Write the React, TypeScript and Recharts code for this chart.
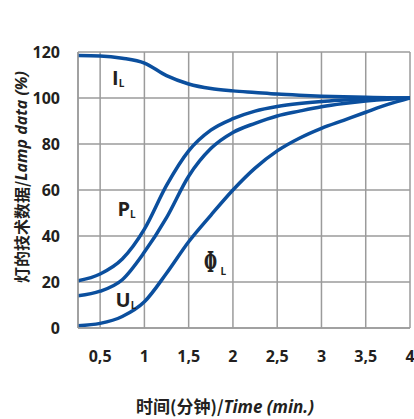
import React from 'react';
import { LineChart, Line, XAxis, YAxis, CartesianGrid, ReferenceDot } from 'recharts';

const timeMin = [0.25, 0.5, 0.75, 1.0, 1.25, 1.5, 1.75, 2.0, 2.25, 2.5, 2.75, 3.0, 3.25, 3.5, 3.75, 4.0];
const currentIL = [118.5, 118.3, 117.3, 115.2, 109.7, 106.1, 104.1, 103.1, 102.4, 101.7, 101.2, 100.8, 100.5, 100.3, 100.1, 100];
const powerPL = [20.5, 23.5, 30, 43, 62, 77, 86, 91, 94.3, 96.3, 97.6, 98.5, 99.1, 99.6, 99.9, 100];
const voltageUL = [14, 16, 21, 33, 48, 66, 78, 85, 89, 92.2, 94.3, 96.2, 97.6, 98.7, 99.5, 100];
const fluxPhiL = [1, 2, 5, 11.4, 23.8, 37.5, 49, 60, 69.5, 77, 82.5, 86.8, 90.3, 93.8, 97.2, 100];

const xTicks = [0.5, 1, 1.5, 2, 2.5, 3, 3.5, 4];
const yTicks = [0, 20, 40, 60, 80, 100, 120];

const annotations = [
  { main: 'I', x: 0.68, y: 108.7, serif: false },
  { main: 'P', x: 0.74, y: 51.7, serif: false },
  { main: 'U', x: 0.72, y: 12.2, serif: false },
  { main: 'Φ', x: 1.78, y: 28.7, serif: true },
];

const data = timeMin.map((t, i) => ({
  x: t,
  IL: currentIL[i],
  PL: powerPL[i],
  UL: voltageUL[i],
  PhiL: fluxPhiL[i],
}));

const BLUE = '#0b4f9e';
const GRID = '#9b9b9b';
const TEXT = '#231f20';
const FONT = '"Open Sans", "Noto Sans", sans-serif';

const renderAnno = (a: any) => (props: any) => {
  const vb = props.viewBox || {};
  const cx = (vb.x || 0) + (vb.width || 0) / 2;
  const cy = (vb.y || 0) + (vb.height || 0) / 2;
  if (a.serif) {
    return (
      <g>
        <text
          x={0}
          y={0}
          transform={`translate(${cx - 3},${cy + 10}) scale(0.75,1.4)`}
          textAnchor="middle"
          fontFamily='"DejaVu Serif", serif'
          fontWeight="bold"
          fontSize={20}
          fill={TEXT}
        >
          {a.main}
        </text>
        <text x={cx + 7} y={cy + 13} fontFamily={FONT} fontWeight="bold" fontSize={10} fill={TEXT}>L</text>
      </g>
    );
  }
  return (
    <text x={cx - 4} y={cy + 7} textAnchor="start" fontFamily={FONT} fontWeight="bold" fontSize={20} fill={TEXT}>
      <tspan>{a.main}</tspan>
      <tspan fontSize={10} dy={2}>L</tspan>
    </text>
  );
};

const renderYLabel = (props: any) => {
  const vb = props.viewBox || {};
  const cx = 21;
  const cy = (vb.y || 0) + (vb.height || 0) / 2 - 13;
  return (
    <text
      x={cx}
      y={cy}
      transform={`rotate(-90, ${cx}, ${cy})`}
      textAnchor="middle"
      dominantBaseline="central"
      fontFamily={FONT}
      fontWeight="bold"
      fontSize={16}
      fill={TEXT}
    >
      <tspan fontFamily='"Noto Sans CJK SC", sans-serif'>灯的技术数据/</tspan>
      <tspan fontStyle="italic">Lamp data (%)</tspan>
    </text>
  );
};

const renderXLabel = () => {
  const cx = 225;
  const cy = 413;
  return (
    <text x={cx} y={cy} textAnchor="middle" fontFamily={FONT} fontWeight="bold" fontSize={17} fill={TEXT}>
      <tspan fontFamily='"Noto Sans CJK SC", sans-serif'>时间(分钟)/</tspan>
      <tspan fontStyle="italic">Time (min.)</tspan>
    </text>
  );
};

export default function App() {
  return (
    <div style={{ position: 'absolute', left: 0, top: 0, width: 414, height: 419, background: '#fff' }}>
      <LineChart width={414} height={419} data={data} margin={{ top: 52, right: 4, left: 0, bottom: 0 }}>
        <CartesianGrid stroke={GRID} strokeWidth={1.5} />
        <XAxis
          dataKey="x"
          type="number"
          domain={[0.25, 4]}
          ticks={xTicks}
          interval={0}
          allowDataOverflow
          height={91}
          tickLine={false}
          tickSize={0}
          tickMargin={23}
          axisLine={{ stroke: GRID, strokeWidth: 1.5 }}
          tickFormatter={(v: number) => String(v).replace('.', ',')}
          tick={{ fontFamily: FONT, fontWeight: 'bold', fontSize: 16, fill: TEXT }}
          label={{ content: renderXLabel }}
        />
        <YAxis
          type="number"
          domain={[0, 120]}
          ticks={yTicks}
          interval={0}
          width={78}
          tickLine={false}
          tickSize={0}
          tickMargin={18}
          axisLine={{ stroke: GRID, strokeWidth: 1.5 }}
          tick={{ fontFamily: FONT, fontWeight: 'bold', fontSize: 16, fill: TEXT }}
          label={{ content: renderYLabel }}
        />
        <Line type="monotone" dataKey="IL" stroke={BLUE} strokeWidth={3.5} dot={false} isAnimationActive={false} />
        <Line type="monotone" dataKey="PL" stroke={BLUE} strokeWidth={3.5} dot={false} isAnimationActive={false} />
        <Line type="monotone" dataKey="UL" stroke={BLUE} strokeWidth={3.5} dot={false} isAnimationActive={false} />
        <Line type="monotone" dataKey="PhiL" stroke={BLUE} strokeWidth={3.5} dot={false} isAnimationActive={false} />
        {annotations.map((a) => (
          <ReferenceDot key={a.main} x={a.x} y={a.y} r={0} fill="none" stroke="none" label={{ content: renderAnno(a) }} />
        ))}
      </LineChart>
    </div>
  );
}
